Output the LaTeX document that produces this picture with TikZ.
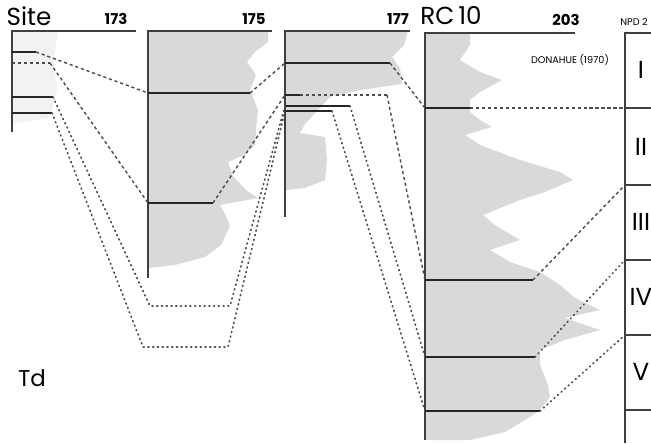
\documentclass[tikz,border=0pt]{standalone}
\usepackage{fontspec}
\setmainfont{Poppins}
\usetikzlibrary{positioning, calc}

\tikzset{
    axis/.style={line width=0.8pt, black!75},
    level/.style={line width=1.1pt, black!85},
    corr/.style={line width=0.8pt, black!70, dash pattern=on 1.8pt off 1.6pt},
    corrdot/.style={line width=1pt, black!70, dash pattern=on 0.5pt off 2.2pt, line cap=round},
    hist/.style={fill=black!15},
    numb/.style={font=\bfseries\fontsize{8.5}{9}\selectfont},
    zone/.style={font=\fontsize{14}{16}\selectfont},
}

\begin{document}
\begin{tikzpicture}[x=0.02cm, y=-0.02cm]
    \useasboundingbox (0,0) rectangle (651,443);

    % abundance curves
    \fill[black!5] (12,31) -- (58,31) -- (54,60) -- (57,90) -- (50,118) -- (12,124) -- cycle;
    \fill[hist] (148,31) -- (268,31) -- (268,42) -- (255,52) -- (247,62) -- (256,75) -- (250,90)
        -- (258,110) -- (256,130) -- (255,145) -- (244,155) -- (228,162) -- (233,176) -- (246,190)
        -- (258,198) -- (220,205) -- (226,216) -- (230,226) -- (221,245) -- (205,257) -- (175,265)
        -- (148,268) -- cycle;
    \fill[hist] (285,31) -- (408,31) -- (404,45) -- (392,57) -- (400,68) -- (402,84) -- (360,90)
        -- (330,97) -- (318,110) -- (305,124) -- (300,133) -- (325,137) -- (327,160) -- (325,180)
        -- (305,188) -- (285,190) -- cycle;
    \fill[hist] (425,33) -- (470,33) -- (470,45) -- (460,60) -- (480,72) -- (502,80) -- (480,92)
        -- (470,100) -- (470,112) -- (480,120) -- (492,127) -- (465,135) -- (480,145) -- (520,160)
        -- (560,172) -- (573,180) -- (545,192) -- (520,200) -- (483,215) -- (495,225) -- (520,240)
        -- (490,250) -- (510,262) -- (540,272) -- (560,285) -- (575,298) -- (600,310) -- (565,318)
        -- (600,330) -- (565,340) -- (540,350) -- (540,365) -- (548,385) -- (550,397) -- (540,410)
        -- (525,420) -- (505,432) -- (470,440) -- (425,440) -- cycle;

    % column axes
    \draw[axis] (136,31) -- (12,31) -- (12,132);
    \draw[axis] (272,31) -- (148,31) -- (148,278);
    \draw[axis] (410,31) -- (285,31) -- (285,217);
    \draw[axis] (575,33) -- (425,33) -- (425,440);
    \draw[axis] (651,33) -- (625,33) -- (625,443);

    % site 173
    \coordinate (A1) at (36,52);
    \coordinate (A2) at (50,63);
    \coordinate (A3) at (53,97);
    \coordinate (A4) at (52,113);
    \draw[level] (12,52) -- (A1);
    \draw[corr] (12,63) -- (A2);
    \draw[level] (12,97) -- (A3);
    \draw[level] (12,113) -- (A4);

    % site 175
    \coordinate (B1) at (148,93);   \coordinate (B1e) at (250,93);
    \coordinate (B2) at (148,203);  \coordinate (B2e) at (213,203);
    \draw[level] (B1) -- (B1e);
    \draw[level] (B2) -- (B2e);

    % site 177
    \coordinate (C1) at (285,63);   \coordinate (C1e) at (390,63);
    \coordinate (C2) at (285,95);   \coordinate (C2e) at (387,95);
    \coordinate (C3) at (285,106);  \coordinate (C3e) at (350,106);
    \coordinate (C4) at (285,111);  \coordinate (C4e) at (332,111);
    \draw[level] (C1) -- (C1e);
    \draw[level] (C2) -- (300,95);
    \draw[corr] (300,95) -- (C2e);
    \draw[level] (C3) -- (C3e);
    \draw[level] (C4) -- (C4e);

    % RC 10
    \coordinate (D1) at (425,108);  \coordinate (D1e) at (470,108);
    \coordinate (D2) at (425,280);  \coordinate (D2e) at (533,280);
    \coordinate (D3) at (425,357);  \coordinate (D3e) at (535,357);
    \coordinate (D4) at (425,411);  \coordinate (D4e) at (540,411);
    \draw[level] (D1) -- (D1e);
    \draw[level] (D2) -- (D2e);
    \draw[level] (D3) -- (D3e);
    \draw[level] (D4) -- (D4e);

    % NPD zones
    \coordinate (N1) at (625,108);
    \coordinate (N2) at (625,185);
    \coordinate (N3) at (625,260);
    \coordinate (N4) at (625,335);
    \coordinate (N5) at (625,410);
    \foreach \z in {N1,N2,N3,N4,N5}
        \draw[axis] (\z) -- ++(26,0);

    % correlation lines
    \coordinate (T1) at (150,306);  \coordinate (T2) at (230,306);
    \coordinate (T3) at (143,347);  \coordinate (T4) at (228,347);
    \draw[corr] (A1) -- (B1);
    \draw[corr] (A2) -- (B2);
    \draw[corrdot] (A3) -- (T1) -- (T2) -- (C3);
    \draw[corrdot] (A4) -- (T3) -- (T4) -- (C4);
    \draw[corr] (B1e) -- (C1);
    \draw[corr] (B2e) -- (C2);
    \draw[corr] (C1e) -- (D1);
    \draw[corr] (C2e) -- (D2);
    \draw[corrdot] (C3e) -- (D3);
    \draw[corrdot] (C4e) -- (D4);
    \draw[corr] (D1e) -- (N1);
    \draw[corr] (D2e) -- (N2);
    \draw[corrdot] (D3e) -- (N3);
    \draw[corrdot] (D4e) -- (N4);

    % labels
    \node[font=\fontsize{14}{16}\selectfont] (site) at (29,16) {Site};
    \node[numb] (s173) at (116,19) {173};
    \node[numb] (s175) at (254,19) {175};
    \node[numb] (s177) at (398,19) {177};
    \node[font=\fontsize{14}{16}\selectfont] (rc) at (451,16) {RC\,10};
    \node[numb] (s203) at (566,20) {203};
    \node[font=\fontsize{5.5}{6}\selectfont, anchor=west, inner sep=0pt] (npd) at (620,22) {NPD 2};
    \node[font=\fontsize{5.5}{6}\selectfont] (don) at (570,60) {DONAHUE (1970)};
    \node[font=\fontsize{13}{15}\selectfont] (td) at (32,378) {Td};

    % zone numerals
    \node[zone] (z1) at (641,70) {I};
    \node[zone] (z2) at (641,147) {II};
    \node[zone] (z3) at (641,222) {III};
    \node[zone] (z4) at (641,297) {IV};
    \node[zone] (z5) at (641,372) {V};
\end{tikzpicture}
\end{document}
